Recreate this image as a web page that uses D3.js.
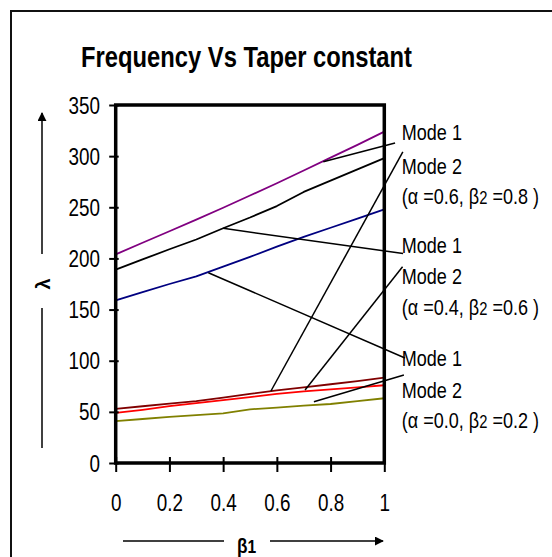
<!DOCTYPE html>
<html>
<head>
<meta charset="utf-8">
<script src="https://cdn.jsdelivr.net/npm/d3@7/dist/d3.min.js"></script>
<style>
html,body{margin:0;padding:0;background:#fff;}
svg{display:block;}
text{font-family:"Liberation Sans",Arial,sans-serif;fill:#000;}
</style>
</head>
<body>
<svg id="chart" width="552" height="557"></svg>
<script>
// ---------- data ----------
const beta1 = [0, 0.1, 0.2, 0.3, 0.4, 0.5, 0.6, 0.7, 0.8, 0.9, 1];
const purpleSeries  = [204, 215.3, 226.6, 238, 249.5, 261.5, 273.5, 286, 298.5, 311, 324];
const blackSeries   = [189, 199, 209, 218.5, 229.5, 240, 251.2, 265, 276, 287, 298];
const blueSeries    = [159, 167, 175, 182.5, 192, 201.5, 211.5, 221, 230, 239, 248];
const darkRedSeries = [53, 55.5, 58, 60.5, 64, 67.5, 71, 74, 77, 80, 83.5];
const redSeries     = [49, 52, 55.5, 58.5, 61.5, 64.5, 67.5, 70, 72, 74, 76];
const oliveSeries   = [41, 43, 45, 46.8, 48.6, 52.5, 54.2, 56, 57.7, 60.5, 63.3];
const xTickValues = [0, 0.2, 0.4, 0.6, 0.8, 1];
const xTickLabels = ["0", "0.2", "0.4", "0.6", "0.8", "1"];
const yTickValues = [0, 50, 100, 150, 200, 250, 300, 350];
const yTickLabels = ["0", "50", "100", "150", "200", "250", "300", "350"];
const titleText = "Frequency Vs Taper constant";

// annotation labels (data units: beta1, lambda baseline)
const labelLines = [
  {t: "Mode 1", y: 315.8}, {t: "Mode 2", y: 282.5}, {t: "(α =0.6, β|2| =0.8 )", y: 253.2},
  {t: "Mode 1", y: 205.6}, {t: "Mode 2", y: 174.7}, {t: "(α =0.4, β|2| =0.6 )", y: 144.7},
  {t: "Mode 1", y: 94.8},  {t: "Mode 2", y: 63.8},  {t: "(α =0.0, β|2| =0.2 )", y: 34.2}
];
const labelX = 1.065;
// connector lines (data units)
const connectors = [
  [[0.773, 294.5], [1.040, 312.8]],
  [[0.578, 70.4],  [1.069, 304.1]],
  [[0.400, 229.4], [1.070, 204.8]],
  [[0.705, 71.4],  [1.068, 191.9]],
  [[0.345, 186.0], [1.077, 102.6]],
  [[0.738, 59.9],  [1.073, 86.0]]
];

const series = [
  {values: purpleSeries,  color: "#800080"},
  {values: blackSeries,   color: "#000000"},
  {values: blueSeries,    color: "#000080"},
  {values: darkRedSeries, color: "#800000"},
  {values: redSeries,     color: "#ff0000"},
  {values: oliveSeries,   color: "#808000"}
];

// ---------- layout ----------
const svg = d3.select("#chart");
const narrow = 0.82;
const x = d3.scaleLinear().domain([0, 1]).range([115.7, 384.3]);
const y = d3.scaleLinear().domain([0, 350]).range([463, 105]);

svg.append("rect").attr("width", 552).attr("height", 557).attr("fill", "#fff");
// outer frame
svg.append("rect").attr("x", 11).attr("y", 11).attr("width", 700).attr("height", 700)
  .attr("fill", "none").attr("stroke", "#111").attr("stroke-width", 2);

// title
svg.append("text").attr("transform", `translate(81,67) scale(${narrow},1)`)
  .attr("font-size", 29).attr("font-weight", "bold").text(titleText);

// series lines
const line = d3.line().x((d, i) => x(beta1[i])).y(d => y(d));
svg.append("g").selectAll("path").data(series).join("path")
  .attr("d", d => line(d.values))
  .attr("fill", "none").attr("stroke", d => d.color).attr("stroke-width", 1.8)
  .attr("stroke-linejoin", "round");

// plot frame
svg.append("rect").attr("x", x(0)).attr("y", y(350))
  .attr("width", x(1) - x(0)).attr("height", y(0) - y(350))
  .attr("fill", "none").attr("stroke", "#000").attr("stroke-width", 3.5);

// y axis
const yAxis = svg.append("g").attr("transform", `translate(${x(0)},0)`)
  .call(d3.axisLeft(y).tickValues(yTickValues).tickFormat((d, i) => yTickLabels[i]).tickSize(6.5));
yAxis.select(".domain").remove();
yAxis.selectAll(".tick line").attr("x1", 3).attr("x2", -6.5).attr("stroke", "#000").attr("stroke-width", 2);
yAxis.selectAll(".tick text").attr("x", null).attr("dy", "0.35em")
  .attr("transform", `translate(-15.7,0) scale(${narrow},1)`)
  .attr("font-size", 23).attr("font-family", "Liberation Sans, Arial, sans-serif").attr("fill", "#000");

// x axis
const xAxis = svg.append("g").attr("transform", `translate(0,${y(0)})`)
  .call(d3.axisBottom(x).tickValues(xTickValues).tickFormat((d, i) => xTickLabels[i]).tickSize(9));
xAxis.select(".domain").remove();
xAxis.selectAll(".tick line").attr("y1", -6).attr("y2", 9).attr("stroke", "#000").attr("stroke-width", 2);
xAxis.selectAll(".tick text").attr("y", null).attr("dy", null)
  .attr("transform", `translate(0,48) scale(${narrow},1)`)
  .attr("font-size", 23).attr("font-family", "Liberation Sans, Arial, sans-serif").attr("fill", "#000");

// connectors
svg.append("g").selectAll("line").data(connectors).join("line")
  .attr("x1", d => x(d[0][0])).attr("y1", d => y(d[0][1]))
  .attr("x2", d => x(d[1][0])).attr("y2", d => y(d[1][1]))
  .attr("stroke", "#000").attr("stroke-width", 1.5);

// right labels
const lbl = svg.append("g").selectAll("text").data(labelLines).join("text")
  .attr("transform", d => `translate(${x(labelX)},${y(d.y)}) scale(${narrow},1)`)
  .attr("font-size", 22);
lbl.each(function(d) {
  const parts = d.t.split("|");
  const el = d3.select(this);
  parts.forEach((p, i) => {
    el.append("tspan").attr("font-size", i === 1 ? 18 : null).text(p);
  });
});

// y axis title with arrows
svg.append("defs").append("marker").attr("id", "ah").attr("viewBox", "0 0 10 10")
  .attr("refX", 9).attr("refY", 5).attr("markerWidth", 9).attr("markerHeight", 9)
  .attr("markerUnits", "userSpaceOnUse").attr("orient", "auto")
  .append("path").attr("d", "M0,0 L10,5 L0,10 Z").attr("fill", "#000");
svg.append("line").attr("x1", 42).attr("y1", 254).attr("x2", 42).attr("y2", 113)
  .attr("stroke", "#000").attr("stroke-width", 1.5).attr("marker-end", "url(#ah)");
svg.append("line").attr("x1", 42).attr("y1", 308).attr("x2", 42).attr("y2", 448)
  .attr("stroke", "#000").attr("stroke-width", 1.5);
svg.append("text").attr("transform", "translate(50,284) rotate(-90)")
  .attr("text-anchor", "middle").attr("font-size", 20).attr("font-weight", "bold").text("λ");

// x axis title with arrows
svg.append("line").attr("x1", 123).attr("y1", 541).attr("x2", 224).attr("y2", 541)
  .attr("stroke", "#000").attr("stroke-width", 1.5);
svg.append("line").attr("x1", 270).attr("y1", 541).attr("x2", 383).attr("y2", 541)
  .attr("stroke", "#000").attr("stroke-width", 1.5).attr("marker-end", "url(#ah)");
const xt = svg.append("text").attr("transform", `translate(237,553) scale(${narrow},1)`)
  .attr("font-size", 21).attr("font-weight", "bold");
xt.append("tspan").text("β");
xt.append("tspan").attr("font-size", 19).text("1");
</script>
</body>
</html>
